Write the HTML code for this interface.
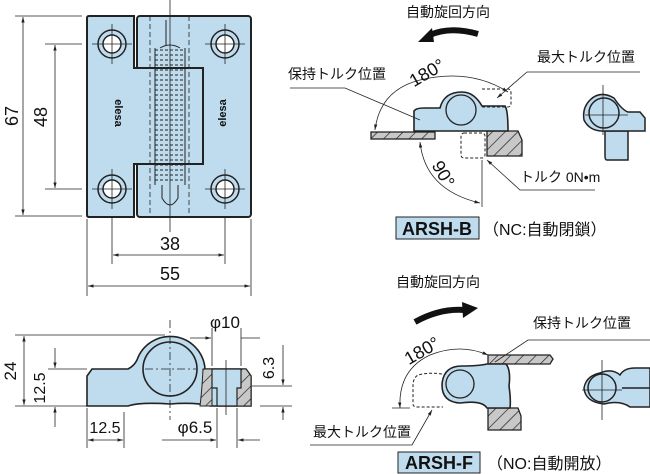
<!DOCTYPE html>
<html><head><meta charset="utf-8"><style>
html,body{margin:0;padding:0;background:#fff;}
svg{display:block;}
text{font-family:"Liberation Sans","Noto Sans CJK JP",sans-serif;fill:#111;}
</style></head><body>
<svg width="650" height="474" viewBox="0 0 650 474" xmlns="http://www.w3.org/2000/svg">
<defs>
<pattern id="h" patternUnits="userSpaceOnUse" width="9" height="9" patternTransform="rotate(45)">
<rect width="9" height="9" fill="#c8c8c8"/><line x1="0" y1="0" x2="0" y2="9" stroke="#222" stroke-width="1.4"/>
</pattern>
<marker id="a" viewBox="0 0 10 10" refX="10" refY="5" markerWidth="7" markerHeight="7" orient="auto-start-reverse"><path d="M0,2 L10,5 L0,8 z" fill="#222"/></marker>
</defs>
<g stroke="#222" fill="none" stroke-width="0.8">
<rect x="137" y="16" width="114" height="201" rx="3" fill="#bfdcef" stroke-width="2"/>
<path d="M89,16 H134 V68 H203 V164 H134 V217 H89 Q87,217 87,215 V18 Q87,16 89,16Z" fill="#bfdcef" stroke-width="2"/>
<path d="M150,16 V217 M189,16 V217" stroke-dasharray="5,3"/>
<path d="M170,0 V232"/>
<g stroke-width="1">
<path d="M155,50 H185 M155,55 H185 M155,60 H185 M155,65 H185 M155,70 H185 M155,75 H185 M155,80 H185 M155,85 H185 M155,90 H185 M155,95 H185 M155,100 H185 M155,105 H185 M155,110 H185 M155,115 H185 M155,120 H185 M155,125 H185 M155,130 H185 M155,135 H185 M155,140 H185 M155,145 H185 M155,150 H185 M155,155 H185 M155,160 H185 M155,165 H185 M155,170 H185 M155,175 H185 M155,180 H185" stroke-dasharray="3,2"/>
<path d="M155,48 V185 M185,48 V185 M160,48 Q170,42 180,48 M162,185 V198 Q170,212 178,198 V185 M166,20 V45"/>
</g>
<g stroke-width="1.5" fill="#bfdcef">
<circle cx="112" cy="44" r="14"/><circle cx="112" cy="44" r="9" fill="#fff"/>
<circle cx="225" cy="44" r="14"/><circle cx="225" cy="44" r="9" fill="#fff"/>
<circle cx="112" cy="189" r="14"/><circle cx="112" cy="189" r="9" fill="#fff"/>
<circle cx="225" cy="189" r="14"/><circle cx="225" cy="189" r="9" fill="#fff"/>
</g>
<path d="M92,44 H132 M112,24 V64 M205,44 H245 M225,24 V64 M92,189 H132 M112,169 V209 M205,189 H245 M225,169 V209"/>
<path d="M15,16 H82 M45,44 H82 M45,189 H82 M15,216 H82"/>
<path d="M23,17 V215" marker-start="url(#a)" marker-end="url(#a)"/>
<path d="M55,45 V188" marker-start="url(#a)" marker-end="url(#a)"/>
<path d="M112,218 V264 M225,218 V264 M87,219 V296 M251,219 V296"/>
<path d="M113,255 H224" marker-start="url(#a)" marker-end="url(#a)"/>
<path d="M88,286 H250" marker-start="url(#a)" marker-end="url(#a)"/>
</g>
<text x="115" y="113" font-size="11" font-weight="bold" transform="rotate(90 115 113)" text-anchor="middle">elesa</text>
<text x="226" y="113" font-size="11" font-weight="bold" transform="rotate(-90 226 113)" text-anchor="middle">elesa</text>
<text x="18" y="116" font-size="18" transform="rotate(-90 18 116)" text-anchor="middle">67</text>
<text x="47" y="117" font-size="18" transform="rotate(-90 47 117)" text-anchor="middle">48</text>
<text x="170" y="250" font-size="18" text-anchor="middle">38</text>
<text x="170" y="280" font-size="18" text-anchor="middle">55</text>

<g stroke="#222" stroke-width="1.6" fill="#bfdcef">
<path d="M92,369 H128 Q134,366 137,360 A35,35 0 0 1 205,369 H246 L251,376 V406 H210 Q195,402 170,404 Q140,402 128,406 H87 V376Z"/>
<circle cx="170" cy="369" r="27" fill="#bfdcef"/>
<path d="M203,369 H212 V406 H200 Q202,390 203,369Z" fill="url(#h)" stroke-width="1"/>
<path d="M241,369 H246 L251,376 V406 H237 V388 H241Z" fill="url(#h)" stroke-width="1"/>
<path d="M212,369 H241 V388 H237 V406 H217 V388 H212Z" fill="#bfdcef" stroke-width="1.2"/>
</g>
<g stroke="#222" fill="none" stroke-width="0.8">
<path d="M170,320 V420 M145,369 H196" stroke-dasharray="8,3,2,3"/>
<path d="M226,360 V415"/>
<path d="M15,335 H165 M48,369 H87 M15,406 H87"/>
<path d="M24,336 V405" marker-start="url(#a)" marker-end="url(#a)"/>
<path d="M55,348 V368" marker-end="url(#a)"/><path d="M55,427 V407" marker-end="url(#a)"/>
<path d="M87,408 V448 M124,412 V448"/>
<path d="M88,440 H123" marker-start="url(#a)" marker-end="url(#a)"/>
<path d="M212,328 V366 M241,328 V366 M190,338 H211" marker-end="url(#a)"/>
<path d="M241,338 H260"/>
<path d="M217,408 V448 M237,408 V448"/>
<path d="M162,440 H216" marker-end="url(#a)"/><path d="M260,440 H238" marker-end="url(#a)"/>
<path d="M252,386 H292 M260,406 H292"/>
<path d="M283,345 V385" marker-end="url(#a)"/><path d="M283,420 V407" marker-end="url(#a)"/>
</g>
<text x="225" y="328" font-size="17" text-anchor="middle">φ10</text>
<text x="195" y="433" font-size="17" text-anchor="middle">φ6.5</text>
<text x="105" y="433" font-size="16" text-anchor="middle">12.5</text>
<text x="16" y="371" font-size="17" transform="rotate(-90 16 371)" text-anchor="middle">24</text>
<text x="45" y="388" font-size="16" transform="rotate(-90 45 388)" text-anchor="middle">12.5</text>
<text x="274" y="368" font-size="16" transform="rotate(-90 274 368)" text-anchor="middle">6.3</text>

<text x="448" y="17" font-size="14" text-anchor="middle">自動旋回方向</text>
<path d="M478,34 Q450,26 430,35" stroke="#111" stroke-width="6" fill="none"/>
<path d="M418,42 L432,28 L434,42Z" fill="#111"/>
<text x="288" y="79" font-size="14">保持トルク位置</text>
<text x="537" y="62" font-size="14">最大トルク位置</text>
<g stroke="#222" stroke-width="1.3">
<rect x="371" y="132" width="64" height="7" fill="url(#h)"/>
<path d="M487,131 H518 L522,140 V156 H487Z" fill="url(#h)"/>
<path d="M414,111 Q416,108 424,108 H440 Q444,92 462,92 Q474,92 482,106 H505 Q508,110 508,131 H414Z" fill="#bfdcef" stroke-width="1.6"/>
<circle cx="461" cy="110" r="15" fill="#bfdcef"/>
<path d="M482,89 H508 Q511,89 511,93 V104 Q511,107 507,107 H482" fill="none" stroke-dasharray="3,2" stroke-width="1"/>
<rect x="461" y="133" width="24" height="25" rx="3" fill="none" stroke-dasharray="3,2" stroke-width="1"/>
</g>
<g stroke="#222" fill="none" stroke-width="0.8">
<path d="M290,88 H345 L420,120"/>
<path d="M640,72 H527 L497,98" marker-end="url(#a)"/>
<path d="M375,130 Q380,90 420,80 Q470,68 508,92" marker-start="url(#a)" marker-end="url(#a)"/>
<path d="M420,142 Q425,190 480,203" marker-start="url(#a)" marker-end="url(#a)"/>
<path d="M482,160 V207"/>
<path d="M595,190 H520 L487,160" marker-end="url(#a)"/>
</g>
<text x="430" y="78" font-size="18" transform="rotate(-30 430 78)" text-anchor="middle">180°</text>
<text x="438" y="177" font-size="18" transform="rotate(60 438 177)" text-anchor="middle">90°</text>
<text x="520" y="182" font-size="14">トルク 0N•m</text>
<rect x="396" y="217" width="83" height="22" fill="#bfdcef" stroke="#222"/>
<text x="437" y="235" font-size="18" font-weight="bold" text-anchor="middle">ARSH-B</text>
<text x="483" y="235" font-size="16">（NC:自動閉鎖）</text>
<g stroke="#222" stroke-width="1.5">
<path d="M605,131 H628 V160 H607 Q605,160 605,156Z" fill="#bfdcef"/>
<path d="M590,100 Q600,90 614,98 Q622,110 628,112 H640 L645,118 V131 H605 Q590,132 584,120 Q582,108 590,100Z" fill="#bfdcef"/>
<circle cx="604" cy="113" r="15" fill="#bfdcef"/>
</g>
<path d="M603,85 V135 M585,115 H628" stroke="#222" stroke-width="0.8"/>

<text x="438" y="287" font-size="14" text-anchor="middle">自動旋回方向</text>
<path d="M415,322 Q440,308 465,310" stroke="#111" stroke-width="6" fill="none"/>
<path d="M478,308 L462,302 L463,318Z" fill="#111"/>
<text x="533" y="328" font-size="14">保持トルク位置</text>
<text x="313" y="437" font-size="14">最大トルク位置</text>
<g stroke="#222" stroke-width="1.3">
<path d="M488,355 H550 L553,359 L550,364 H488Z" fill="url(#h)"/>
<path d="M488,408 H518 L521,416 V430 H488Z" fill="url(#h)"/>
<path d="M487,364 H506 Q511,370 509,386 Q511,400 510,408 H487 Q482,400 460,403 Q442,402 442,385 Q443,366 462,366 Q478,366 487,364Z" fill="#bfdcef" stroke-width="1.6"/>
<circle cx="460" cy="384" r="14" fill="#bfdcef"/>
<path d="M442,374 Q430,372 418,375 Q413,378 413,386 V404 Q413,407 417,407 H443" fill="none" stroke-dasharray="3,2" stroke-width="1"/>
</g>
<g stroke="#222" fill="none" stroke-width="0.8">
<path d="M650,340 H528 L495,362"/>
<path d="M400,408 Q398,370 430,355 Q460,343 488,355" marker-start="url(#a)" marker-end="url(#a)"/>
<path d="M392,408 H410"/>
<path d="M310,445 H412 L432,410" marker-end="url(#a)"/>
</g>
<text x="425" y="356" font-size="18" transform="rotate(-30 425 356)" text-anchor="middle">180°</text>
<rect x="398" y="452" width="82" height="21" fill="#bfdcef" stroke="#222"/>
<text x="439" y="469" font-size="18" font-weight="bold" text-anchor="middle">ARSH-F</text>
<text x="487" y="469" font-size="16">（NO:自動開放）</text>
<g stroke="#222" stroke-width="1.5">
<path d="M600,373 Q612,368 620,375 Q624,368 635,368 H650 V407 H630 Q620,400 604,404 Q585,402 584,388 Q586,376 600,373Z" fill="#bfdcef"/>
<circle cx="602" cy="388" r="14" fill="#bfdcef"/>
<path d="M622,388 H650"/>
</g>
<path d="M602,360 V420 M582,390 H622" stroke="#222" stroke-width="0.8"/>
</svg>
</body></html>
